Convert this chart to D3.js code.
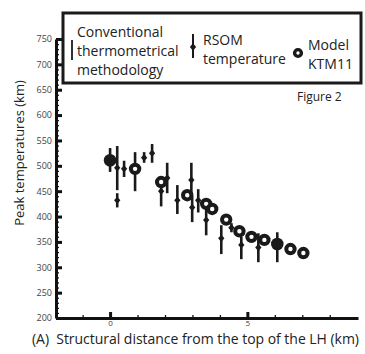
<!DOCTYPE html>
<html>
<head>
<meta charset="utf-8">
<script src="https://d3js.org/d3.v7.min.js"></script>
<style>
  body { margin: 0; background: #fff; }
  svg text { font-family: "Open Sans", "DejaVu Sans", sans-serif; }
</style>
</head>
<body>
<svg id="canvas"></svg>
<script>
"use strict"

// Chart data
// Model KTM11 (circles), distance in km, peak temperature
const modelX = [0.0, 0.91, 1.86, 2.81, 3.50, 3.72, 4.23, 4.71, 5.15, 5.62, 6.09, 6.57, 7.04];
const modelT = [511, 494, 468, 442, 425, 415, 394, 371, 360, 354, 346, 336, 328];
const modelFilled = [true, false, false, false, false, false, false, false, false, false, true, false, false];

// RSOM temperature (diamond with bar)
const rsomX = [0.26, 0.26, 0.51, 1.24, 1.53, 1.86, 2.08, 2.45, 2.96, 2.99, 3.21, 3.50, 4.05, 4.42, 4.78, 5.40];
const rsomT = [496, 432, 494, 516, 525, 450, 476, 432, 472, 418, 432, 393, 357, 378, 344, 339];
const rsomLow = [452, 418, 478, 506, 506, 420, 446, 405, 440, 389, 408, 363, 326, 369, 316, 310];
const rsomHigh = [539, 446, 510, 527, 543, 468, 506, 462, 506, 440, 454, 424, 383, 387, 360, 367];

// Conventional thermometrical methodology (plain bars)
const convX = [0.0, 0.91, 6.09];
const convLow = [488, 450, 310];
const convHigh = [535, 527, 369];

// Axis ticks
const yMajor = [200, 250, 300, 350, 400, 450, 500, 550, 600, 650, 700, 750];
const yMinor = [210, 220, 230, 240, 260, 270, 280, 290, 310, 320, 330, 340, 360, 370, 380, 390,
    410, 420, 430, 440, 460, 470, 480, 490, 510, 520, 530, 540, 560, 570, 580, 590,
    610, 620, 630, 640, 660, 670, 680, 690, 710, 720, 730, 740];
const xMajor = [0, 5];
const xMinor = [-1, 1, 2, 3, 4, 6, 7, 8];

const width = 365;
const height = 354;

const svg = d3.select("#canvas")
    .attr("width", width)
    .attr("height", height);

// Scales
const x = d3.scaleLinear().domain([-1.97, 9.03]).range([56, 358]);
const y = d3.scaleLinear().domain([200, 750]).range([318, 39]);

// Y axis: minor ticks, then major ticks with labels
svg.append("g")
    .attr("transform", `translate(${x.range()[0]},0)`)
    .call(d3.axisLeft(y).tickValues(yMinor).tickSize(-3).tickSizeOuter(0).tickFormat(""))
    .call(g => g.select(".domain").remove())
    .call(g => g.selectAll(".tick line").attr("stroke", "#111").attr("stroke-width", 1.2));

const yAxis = svg.append("g")
    .attr("transform", `translate(${x.range()[0]},0)`)
    .call(d3.axisLeft(y).tickValues(yMajor).tickSize(-6).tickSizeOuter(0).tickPadding(4));
yAxis.select(".domain").attr("stroke", "#111").attr("stroke-width", 3);
yAxis.selectAll(".tick line").attr("stroke", "#111").attr("stroke-width", 3);
yAxis.selectAll(".tick text")
    .attr("font-size", 9)
    .attr("fill", "#444");

// X axis: minor ticks, then major ticks with labels
svg.append("g")
    .attr("transform", `translate(0,${y.range()[0]})`)
    .call(d3.axisBottom(x).tickValues(xMinor).tickSize(-3).tickSizeOuter(0).tickFormat(""))
    .call(g => g.select(".domain").remove())
    .call(g => g.selectAll(".tick line").attr("stroke", "#111").attr("stroke-width", 1.3));

const xAxis = svg.append("g")
    .attr("transform", `translate(0,${y.range()[0]})`)
    .call(d3.axisBottom(x).tickValues(xMajor).tickSize(-6).tickSizeOuter(0).tickPadding(2));
xAxis.select(".domain").attr("stroke", "#111").attr("stroke-width", 3);
xAxis.selectAll(".tick line").attr("stroke", "#111").attr("stroke-width", 3);
xAxis.selectAll(".tick text")
    .attr("font-size", 8)
    .attr("fill", "#444");

// Axis titles
svg.append("text")
    .text("(A)  Structural distance from the top of the LH (km)")
    .attr("x", 32)
    .attr("y", 344)
    .attr("font-size", 14)
    .attr("textLength", 327)
    .style("white-space", "pre")
    .attr("fill", "#222");

svg.append("text")
    .text("Peak temperatures (km)")
    .attr("text-anchor", "middle")
    .attr("transform", "translate(24,153) rotate(-90)")
    .attr("font-size", 13)
    .attr("fill", "#222");

// Conventional bars
const marks = svg.append("g");
marks.selectAll("line.conv")
    .data(convX)
    .enter()
    .append("line")
    .attr("class", "conv")
    .attr("x1", d => x(d))
    .attr("x2", d => x(d))
    .attr("y1", (d, i) => y(convLow[i]))
    .attr("y2", (d, i) => y(convHigh[i]))
    .attr("stroke", "#1a1a1a")
    .attr("stroke-width", 2.6);

// RSOM bars and diamonds
marks.selectAll("line.rsom")
    .data(rsomX)
    .enter()
    .append("line")
    .attr("class", "rsom")
    .attr("x1", d => x(d))
    .attr("x2", d => x(d))
    .attr("y1", (d, i) => y(rsomLow[i]))
    .attr("y2", (d, i) => y(rsomHigh[i]))
    .attr("stroke", "#1a1a1a")
    .attr("stroke-width", 2.6);

// Model circles
marks.selectAll("circle.model")
    .data(modelX)
    .enter()
    .append("circle")
    .attr("class", "model")
    .attr("cx", d => x(d))
    .attr("cy", (d, i) => y(modelT[i]))
    .attr("r", (d, i) => modelFilled[i] ? 6.3 : 4.2)
    .attr("fill", (d, i) => modelFilled[i] ? "#1a1a1a" : "#fff")
    .attr("stroke", "#1a1a1a")
    .attr("stroke-width", (d, i) => modelFilled[i] ? 0 : 4);

const diamond = d3.symbol().type(d3.symbolDiamond).size(24);
marks.selectAll("path.rsom")
    .data(rsomX)
    .enter()
    .append("path")
    .attr("class", "rsom")
    .attr("d", diamond)
    .attr("transform", (d, i) => `translate(${x(d)},${y(rsomT[i])}) scale(1.2,0.8)`)
    .attr("fill", "#1a1a1a");

// Legend box
const legend = svg.append("g");
legend.append("rect")
    .attr("x", 63)
    .attr("y", 13)
    .attr("width", 298)
    .attr("height", 70)
    .attr("fill", "#fff")
    .attr("stroke", "#1a1a1a")
    .attr("stroke-width", 3);

legend.append("line")
    .attr("x1", 72).attr("x2", 72)
    .attr("y1", 40).attr("y2", 60)
    .attr("stroke", "#1a1a1a")
    .attr("stroke-width", 1.8);

const legendText = (lines, lx, ly, anchor) => {
    const t = legend.append("text")
        .attr("x", lx)
        .attr("y", ly)
        .attr("font-size", 14)
        .attr("fill", "#222")
        .attr("text-anchor", anchor);
    lines.forEach((s, i) => t.append("tspan")
        .attr("x", lx)
        .attr("dy", i === 0 ? 0 : 19)
        .text(s));
};

legendText(["Conventional", "thermometrical", "methodology"], 77, 37, "start");

legend.append("line")
    .attr("x1", 193).attr("x2", 193)
    .attr("y1", 34).attr("y2", 58)
    .attr("stroke", "#1a1a1a")
    .attr("stroke-width", 2);
legend.append("path")
    .attr("d", diamond)
    .attr("transform", "translate(193,47) scale(1.2,0.8)")
    .attr("fill", "#1a1a1a");
legendText(["RSOM", "temperature"], 203, 45, "start");

legend.append("circle")
    .attr("cx", 298).attr("cy", 53)
    .attr("r", 3.4)
    .attr("fill", "#fff")
    .attr("stroke", "#1a1a1a")
    .attr("stroke-width", 3.4);
legendText(["Model", "KTM11"], 308, 50, "start");

// Figure caption
svg.append("text")
    .text("Figure 2")
    .attr("x", 297)
    .attr("y", 101)
    .attr("font-size", 12)
    .attr("fill", "#222");
</script>
</body>
</html>
